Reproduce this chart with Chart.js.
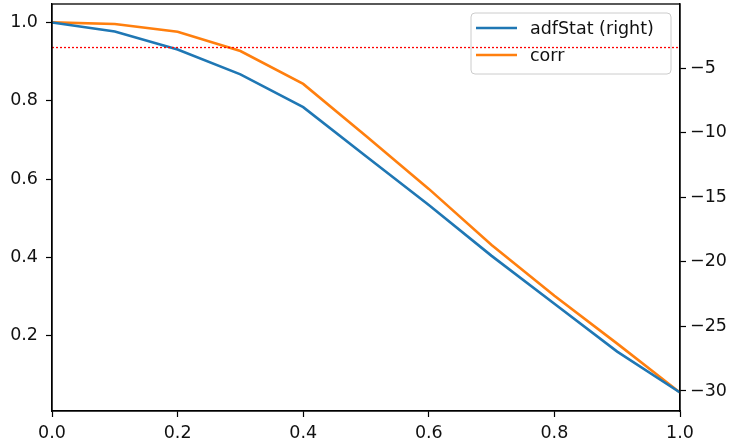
<!DOCTYPE html>
<html>
<head>
<meta charset="utf-8">
<script src="https://cdn.jsdelivr.net/npm/chart.js@4/dist/chart.umd.min.js"></script>
<style>
  html, body { margin: 0; padding: 0; background: #fff; }
  #wrap { width: 733px; height: 447px; position: relative; }
</style>
</head>
<body>
<div id="wrap"><canvas id="chart"></canvas></div>
<script>
// ---- data ----
const dValues = [0.0, 0.1, 0.2, 0.3, 0.4, 0.5, 0.6, 0.7, 0.8, 0.9, 1.0];
const adfStat = [-1.47, -2.17, -3.56, -5.49, -8.03, -11.82, -15.60, -19.54, -23.25, -26.95, -30.12];
const corr    = [1.0, 0.996, 0.976, 0.927, 0.843, 0.710, 0.575, 0.432, 0.302, 0.180, 0.055];
const conf95  = -3.41;
const xTicks     = [0.0, 0.2, 0.4, 0.6, 0.8, 1.0];
const leftTicks  = [0.2, 0.4, 0.6, 0.8, 1.0];
const rightTicks = [-30, -25, -20, -15, -10, -5];

const BLUE = '#1f77b4', ORANGE = '#ff7f0e';
const FONT = { family: 'DejaVu Sans', size: 17.5 };

const pts = (xs, ys) => xs.map((x, i) => ({ x, y: ys[i] }));
const fixTicks = list => scale => { scale.ticks = list.map(v => ({ value: v })); };
const tickGrid = { display: true, drawOnChartArea: false, drawTicks: true, tickLength: 6, color: '#000', tickWidth: 1.2 };
const border = { display: true, color: '#000', width: 1.3 };

// fixed axis sizes, no extra room for edge labels
const sizeY = w => s => { s.width = w; s.paddingTop = 0; s.paddingBottom = 0; };
const sizeX = h => s => { s.height = h; s.paddingLeft = 0; s.paddingRight = 0; };

// legend box in the upper right, drawn under the lines
const legendBox = {
  id: 'legendBox',
  beforeDatasetsDraw(chart) {
    const ctx = chart.ctx;
    const items = [{ label: 'adfStat (right)', color: BLUE }, { label: 'corr', color: ORANGE }];
    ctx.save();
    ctx.beginPath();
    ctx.roundRect(471, 13, 200, 61, 4);
    ctx.fillStyle = 'rgba(255,255,255,0.8)';
    ctx.fill();
    ctx.strokeStyle = '#cccccc';
    ctx.lineWidth = 1;
    ctx.stroke();
    ctx.font = `${FONT.size}px ${FONT.family}`;
    ctx.textBaseline = 'middle';
    items.forEach((it, i) => {
      const y = 28 + i * 27;
      ctx.strokeStyle = it.color;
      ctx.lineWidth = 2.6;
      ctx.beginPath(); ctx.moveTo(476, y); ctx.lineTo(517, y); ctx.stroke();
      ctx.fillStyle = '#111';
      ctx.fillText(it.label, 530, y + 1);
    });
    ctx.restore();
  }
};

// axes frame (top + all spines)
const frame = {
  id: 'frame',
  afterDatasetsDraw(chart) {
    const { ctx, chartArea: a } = chart;
    ctx.save();
    ctx.strokeStyle = '#000';
    ctx.lineWidth = 1.3;
    ctx.strokeRect(a.left, a.top, a.right - a.left, a.bottom - a.top);
    ctx.restore();
  }
};

new Chart(document.getElementById('chart'), {
  type: 'line',
  data: {
    datasets: [
      { label: 'adf 95% conf', data: pts([0, 1], [conf95, conf95]), yAxisID: 'y1',
        borderColor: '#ff0000', borderWidth: 1.3, borderDash: [2, 2], pointRadius: 0, order: 0 },
      { label: 'adfStat (right)', data: pts(dValues, adfStat), yAxisID: 'y1',
        borderColor: BLUE, borderWidth: 2.6, pointRadius: 0, order: 1 },
      { label: 'corr', data: pts(dValues, corr), yAxisID: 'y',
        borderColor: ORANGE, borderWidth: 2.6, pointRadius: 0, order: 2 }
    ]
  },
  options: {
    responsive: true, maintainAspectRatio: false, animation: false,
    layout: { padding: { top: 4, left: 0, right: 0, bottom: 0 } },
    plugins: { legend: { display: false }, tooltip: { enabled: false } },
    elements: { line: { tension: 0 } },
    scales: {
      x: {
        type: 'linear', min: 0, max: 1,
        afterBuildTicks: fixTicks(xTicks),
        afterFit: sizeX(36),
        ticks: { callback: v => v.toFixed(1), font: FONT, color: '#111', padding: 6, maxRotation: 0, autoSkip: false },
        grid: tickGrid, border
      },
      y: {
        position: 'left', min: 0.008, max: 1.047,
        afterBuildTicks: fixTicks(leftTicks),
        afterFit: sizeY(52),
        ticks: { callback: v => v.toFixed(1), font: FONT, color: '#111', padding: 8, autoSkip: false },
        grid: tickGrid, border
      },
      y1: {
        position: 'right', min: -31.55, max: -0.04,
        afterBuildTicks: fixTicks(rightTicks),
        afterFit: sizeY(53),
        ticks: { callback: v => (v < 0 ? '\u2212' : '') + Math.abs(v), font: FONT, color: '#111', padding: 4, autoSkip: false },
        grid: tickGrid, border
      }
    }
  },
  plugins: [legendBox, frame]
});
</script>
</body>
</html>
